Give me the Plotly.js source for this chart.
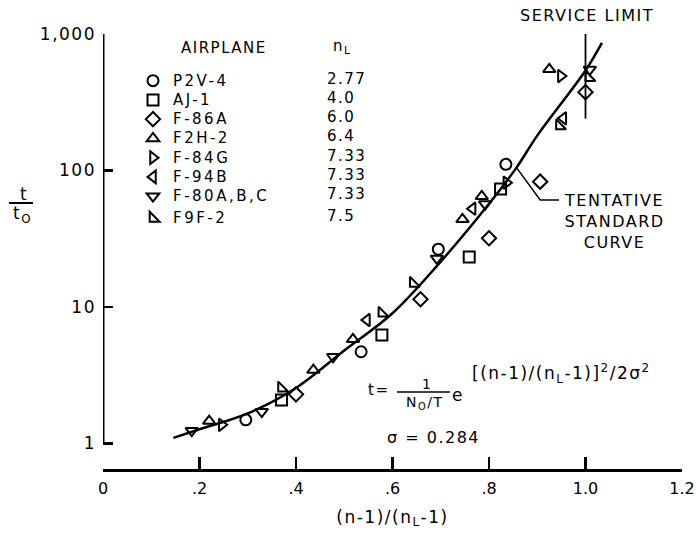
<!DOCTYPE html>
<html><head><meta charset="utf-8">
<script src="https://cdn.plot.ly/plotly-3.0.1.min.js"></script>
<style>
html,body{margin:0;padding:0;background:#fff;}
#chart{width:696px;height:541px;}
text{letter-spacing:1.5px;}
text.xtick{letter-spacing:0px;}
g.xtick text{letter-spacing:0px;}
text.legendtext{letter-spacing:2.5px;font-size:15px !important;}
</style></head><body><div id="chart"></div>
<script>
// Tentative standard curve
const curveX = [0.146, 0.2, 0.3, 0.4, 0.5, 0.6, 0.7, 0.8, 0.857, 0.9, 1.0, 1.034];
const curveY = [1.10, 1.27, 1.66, 2.55, 4.8, 9.0, 21.5, 57, 105, 180, 540, 860];

// Airplanes and limit load factors
const airplanes = ["P2V-4", "AJ-1", "F-86A", "F2H-2", "F-84G", "F-94B", "F-80A,B,C", "F9F-2"];
const nLValues = ["2.77", "4.0", "6.0", "6.4", "7.33", "7.33", "7.33", "7.5"];

// Data points per airplane
const p2v4X = [0.296, 0.535, 0.695, 0.835];
const p2v4Y = [1.49, 4.70, 26.5, 111];
const aj1X = [0.370, 0.578, 0.759, 0.824];
const aj1Y = [2.08, 6.24, 23.2, 73.2];
const f86aX = [0.400, 0.658, 0.800, 0.906, 1.000];
const f86aY = [2.29, 11.4, 31.9, 82.8, 375];
const f2h2X = [0.220, 0.436, 0.518, 0.745, 0.785, 0.925];
const f2h2Y = [1.46, 3.45, 5.80, 43.9, 64.7, 551];
const f84gX = [0.246, 0.836, 0.949];
const f84gY = [1.37, 81.4, 492];
const f94bX = [0.547, 0.766, 0.954];
const f94bY = [8.03, 52.5, 241];
const f80X = [0.184, 0.329, 0.477, 0.692, 0.792, 1.009];
const f80Y = [1.24, 1.71, 4.32, 22.7, 56.8, 550];
const f9f2X = [0.370, 0.578, 0.643, 0.946, 1.007];
const f9f2Y = [2.54, 8.99, 14.9, 212, 478];

// Service limit line and label leader
const serviceX = [1.0, 1.0];
const serviceY = [240, 1030];
const leaderX = [0.857, 0.906, 0.945];
const leaderY = [105, 60.8, 60.8];

// Axis ticks
const xTickVals = [0, 0.2, 0.4, 0.6, 0.8, 1.0, 1.2];
const xTickText = ["0", ".2", ".4", ".6", ".8", "1.0", "1.2"];
const yTickVals = [1, 10, 100, 1000];
const yTickText = ["1", "10", "100", "1,000"];

const FONT = "DejaVu Sans";
const W = 696, H = 541, ML = 103, MR = 14, MT = 34, MB = 72;
const ax = px => (px - ML) / (W - ML - MR);
const ay = py => (H - MB - py) / (H - MT - MB);

const seriesX = [p2v4X, aj1X, f86aX, f2h2X, f84gX, f94bX, f80X, f9f2X];
const seriesY = [p2v4Y, aj1Y, f86aY, f2h2Y, f84gY, f94bY, f80Y, f9f2Y];
const symbols = ["circle-open", "square-open", "diamond-open", "triangle-up-open",
  "triangle-right-open", "triangle-left-open", "triangle-down-open", "triangle-sw-open"];

const traces = [];
traces.push({
  x: [0, 0], y: [yTickVals[0], yTickVals[yTickVals.length - 1]], mode: "lines",
  line: {color: "#000", width: 3}, showlegend: false, hoverinfo: "skip", cliponaxis: false
});
traces.push({
  x: curveX, y: curveY, mode: "lines", line: {color: "#000", width: 2.5, shape: "spline"},
  showlegend: false, hoverinfo: "skip", cliponaxis: false
});
traces.push({
  x: serviceX, y: serviceY, mode: "lines", line: {color: "#000", width: 1.8},
  showlegend: false, hoverinfo: "skip", cliponaxis: false
});
traces.push({
  x: leaderX, y: leaderY, mode: "lines", line: {color: "#000", width: 1.5},
  showlegend: false, hoverinfo: "skip", cliponaxis: false
});
airplanes.forEach((name, i) => {
  traces.push({
    x: seriesX[i], y: seriesY[i], mode: "markers", name: name,
    legendgroup: i < 7 ? "g1" : "g2",
    marker: {symbol: symbols[i], size: 11, color: "#000", line: {color: "#000", width: 2}},
    cliponaxis: false
  });
});

const rowStep = 19.25;
const legendRows = nLValues.map((v, i) => 78.5 + i * rowStep + (i === 7 ? 3 : 0));
const annotations = [
  {text: "AIRPLANE", x: ax(224), y: ay(48), font: {size: 15}},
  {text: "n<sub>L</sub>", x: ax(342), y: ay(47), font: {size: 15}},
  {text: "SERVICE LIMIT", x: ax(587), y: ay(16), font: {size: 16}},
  {text: "TENTATIVE<br>STANDARD<br>CURVE", x: ax(614), y: ay(221), font: {size: 16}},
  {text: "t=", x: ax(378), y: ay(390), font: {size: 15}},
  {text: "1", x: ax(427), y: ay(384), font: {size: 14}},
  {text: "N<sub>O</sub>/T", x: ax(424), y: ay(403), font: {size: 14}},
  {text: "e", x: ax(458), y: ay(395), font: {size: 17}},
  {text: "[(n-1)/(n<sub>L</sub>-1)]<sup>2</sup>/2σ<sup>2</sup>", x: ax(470), y: ay(373), xanchor: "left", font: {size: 17}},
  {text: "σ = 0.284", x: ax(385), y: ay(437), xanchor: "left", font: {size: 16}},
  {text: "t", x: ax(24), y: ay(194), font: {size: 17}},
  {text: "t<sub>O</sub>", x: ax(22), y: ay(214), font: {size: 17}}
].map(a => Object.assign({xref: "paper", yref: "paper", showarrow: false, xanchor: "center", yanchor: "middle"}, a));
nLValues.forEach((v, i) => {
  annotations.push({text: v, x: ax(325), y: ay(legendRows[i]), xref: "paper", yref: "paper",
    showarrow: false, xanchor: "left", yanchor: "middle", font: {size: 15}});
});

const shapes = [
  {type: "line", xref: "paper", yref: "paper", x0: ax(397), x1: ax(450), y0: ay(392), y1: ay(392), line: {color: "#000", width: 1.5}},
  {type: "line", xref: "paper", yref: "paper", x0: ax(9), x1: ax(33), y0: ay(203), y1: ay(203), line: {color: "#000", width: 2}}
];

const layout = {
  width: W, height: H,
  margin: {l: ML, r: MR, t: MT, b: MB, pad: 0},
  paper_bgcolor: "#fff", plot_bgcolor: "#fff",
  font: {family: FONT, color: "#000", size: 16},
  showlegend: true,
  legend: {x: ax(133), y: ay(66), xanchor: "left", yanchor: "top", bgcolor: "rgba(0,0,0,0)",
    font: {size: 12.5}, traceorder: "grouped", tracegroupgap: 3, itemclick: false},
  xaxis: {
    range: [0, 1.2], tickvals: xTickVals, ticktext: xTickText,
    ticks: "inside", ticklen: 12, tickwidth: 2.5, tickcolor: "#000",
    showline: true, linewidth: 3, linecolor: "#000", showgrid: false, zeroline: false,
    tickfont: {size: 16}, ticklabelstandoff: 3, ticklabeloverflow: "allow",
    title: {text: "(n-1)/(n<sub>L</sub>-1)", font: {size: 17}, standoff: 14}
  },
  yaxis: {
    type: "log", range: [-0.187, 3], tickvals: yTickVals, ticktext: yTickText,
    ticks: "inside", ticklen: 10, tickwidth: 2.5, tickcolor: "#000",
    showline: false, showgrid: false, zeroline: false,
    tickfont: {size: 17}, ticklabelstandoff: 6, ticklabeloverflow: "allow"
  },
  annotations: annotations,
  shapes: shapes
};

Plotly.newPlot("chart", traces, layout, {displayModeBar: false, staticPlot: true});
</script></body></html>
